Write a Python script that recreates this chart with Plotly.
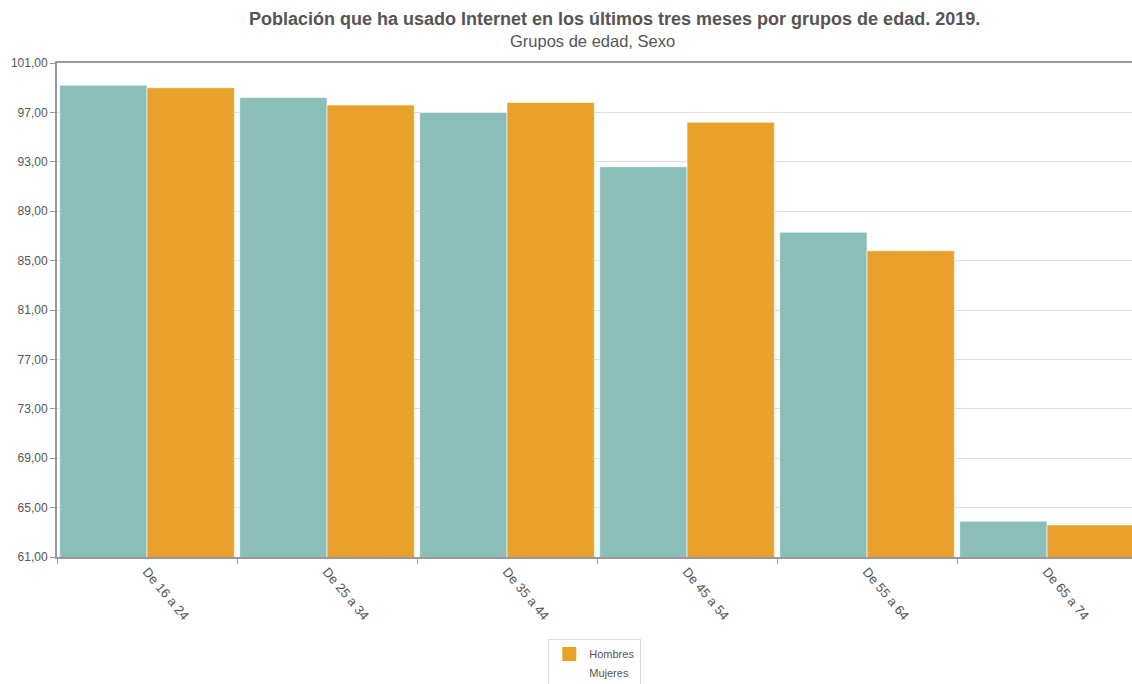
import plotly.graph_objects as go

# Internet use in the last three months, by age group and sex (2019)
grupos = ["De 16 a 24", "De 25 a 34", "De 35 a 44", "De 45 a 54", "De 55 a 64", "De 65 a 74"]
hombres = [99.2, 98.2, 97.0, 92.6, 87.3, 63.9]
mujeres = [99.0, 97.6, 97.8, 96.2, 85.8, 63.6]
y_ticks = [61, 65, 69, 73, 77, 81, 85, 89, 93, 97, 101]

TEAL = "#8bbdb9"
ORANGE = "#e8a22b"
GREY = "#555555"

fig = go.Figure()
fig.add_trace(go.Bar(x=grupos, y=hombres, name="Hombres", marker_color=TEAL,
                     marker_line=dict(color="rgba(255,255,255,0.6)", width=1),
                     showlegend=False))
fig.add_trace(go.Bar(x=grupos, y=mujeres, name="Mujeres", marker_color=ORANGE,
                     marker_line=dict(color="rgba(255,255,255,0.6)", width=1),
                     showlegend=False))

# legend entries as displayed by the source widget (swatch only on the first one)
fig.add_trace(go.Scatter(x=[None], y=[None], mode="markers", name="Hombres",
                         marker=dict(symbol="square", size=14, color=ORANGE)))
fig.add_trace(go.Scatter(x=[None], y=[None], mode="markers", name="Mujeres",
                         marker=dict(symbol="square", size=14, color="rgba(0,0,0,0)")))

fig.update_layout(
    width=1132, height=684,
    margin=dict(l=57, r=0, t=63, b=127, autoexpand=False),
    paper_bgcolor="white", plot_bgcolor="white",
    barmode="group", bargap=0.03, bargroupgap=0,
    separators=",.",
    font=dict(family="Liberation Sans, Arial, sans-serif", color=GREY),
    legend=dict(
        orientation="v", x=0.457, xanchor="left", y=-0.165, yanchor="top",
        bordercolor="#dddddd", borderwidth=1, font=dict(size=11, color=GREY),
        itemwidth=30, tracegroupgap=0,
    ),
    showlegend=True,
    annotations=[
        dict(text="<b>Población que ha usado Internet en los últimos tres meses por grupos de edad. 2019.</b>",
             xref="paper", yref="paper", x=0.519, y=1.089, xanchor="center", yanchor="middle",
             showarrow=False, font=dict(size=18, color=GREY)),
        dict(text="Grupos de edad, Sexo",
             xref="paper", yref="paper", x=0.498, y=1.044, xanchor="center", yanchor="middle",
             showarrow=False, font=dict(size=16.5, color=GREY)),
    ],
)

fig.update_xaxes(
    range=[-0.5, 5.472], automargin=False,
    tickson="boundaries", ticks="outside", ticklen=5, tickcolor="#999999",
    showline=True, linecolor="#999999", linewidth=2, mirror=True,
    tickangle=50, tickfont=dict(size=13, color=GREY),
    showgrid=False,
)
fig.update_yaxes(
    range=[61, 101], tickvals=y_ticks, tickformat=".2f", automargin=False,
    ticks="outside", ticklen=5, tickcolor="#999999",
    showline=True, linecolor="#999999", linewidth=2,
    showgrid=True, gridcolor="#dedede", gridwidth=1,
    tickfont=dict(size=12, color=GREY), zeroline=False,
)

fig.write_html("out.html")
